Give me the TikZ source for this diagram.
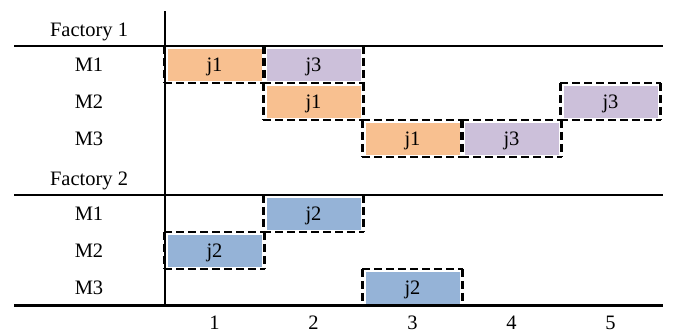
\documentclass[tikz,border=0pt]{standalone}
\usepackage{fontspec}
\setmainfont{Liberation Serif}
\definecolor{jorange}{HTML}{F8C090}
\definecolor{jpurple}{HTML}{CCC0DA}
\definecolor{jblue}{HTML}{95B3D7}
\begin{document}
\begin{tikzpicture}[x=1pt,y=-1pt,
  txt/.style={font=\fontsize{20.5}{24}\selectfont, inner sep=0pt, text height=13.5pt, text depth=0pt},
  job/.style={txt, minimum width=100pt, minimum height=37pt,
    path picture={\fill[#1] ([xshift=3pt,yshift=2.5pt]path picture bounding box.south west)
      rectangle ([xshift=-3pt,yshift=-2.5pt]path picture bounding box.north east);}},
  hedge/.style={line width=2.2pt, dash pattern=on 8pt off 4pt},
  vedge/.style={line width=3.4pt, dash pattern=on 8pt off 4pt},
  axis/.style={line width=2.2pt}]
\useasboundingbox (0,0) rectangle (673,333);

% schedule bars: name / column centre / row centre / colour / job
\foreach \n/\x/\y/\c/\t in {
    fa/214.5/64.5/jorange/j1, fb/313.5/64.5/jpurple/j3,
    fc/313.5/101.5/jorange/j1, fd/610.5/101.5/jpurple/j3,
    fe/412.5/138.5/jorange/j1, ff/511.5/138.5/jpurple/j3,
    ga/313.5/213.5/jblue/j2, gb/214.5/250.5/jblue/j2, gc/412.5/287.5/jblue/j2} {
  \node[job=\c] (\n) at (\x,\y) {\t};
  \draw[hedge] (\n.north west) -- (\n.north east) (\n.south west) -- (\n.south east);
  \draw[vedge] (\n.north west) -- (\n.south west) (\n.north east) -- (\n.south east);
}

% row and factory labels
\node[txt] (f1) at (89,29.5) {Factory 1};
\node[txt] (f1m1) at (89,64.5) {M1};
\node[txt] (f1m2) at (89,101.5) {M2};
\node[txt] (f1m3) at (89,138.5) {M3};
\node[txt] (f2) at (89,178.5) {Factory 2};
\node[txt] (f2m1) at (89,213.5) {M1};
\node[txt] (f2m2) at (89,250.5) {M2};
\node[txt] (f2m3) at (89,287.5) {M3};

% time axis
\foreach \k/\x in {1/214.5, 2/313.5, 3/412.5, 4/511.5, 5/610.5}
  \node[txt] (t\k) at (\x,323) {\k};

% frame lines
\coordinate (vtop) at (165,11);
\coordinate (vbot) at (165,306.5);
\draw[axis] (vtop) -- (vbot);
\draw[axis] (14,46) -- (663,46);
\draw[axis] (14,195) -- (663,195);
\draw[axis] (14,305.5) -- (663,305.5);
\end{tikzpicture}
\end{document}
